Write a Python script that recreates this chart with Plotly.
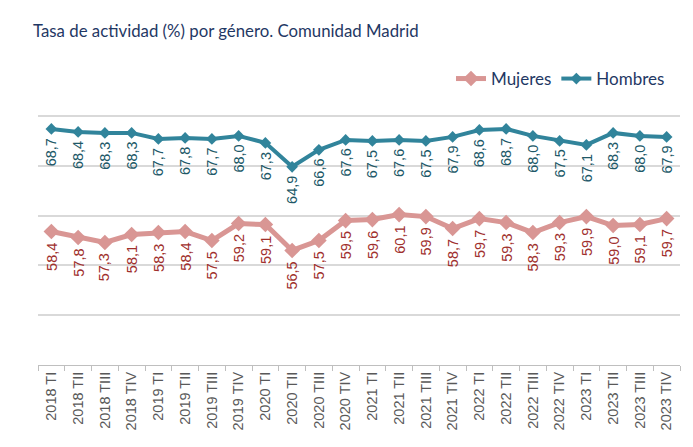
import plotly.graph_objects as go

categories = ["2018 TI", "2018 TII", "2018 TIII", "2018 TIV",
              "2019 TI", "2019 TII", "2019 TIII", "2019 TIV",
              "2020 TI", "2020 TII", "2020 TIII", "2020 TIV",
              "2021 TI", "2021 TII", "2021 TIII", "2021 TIV",
              "2022 TI", "2022 TII", "2022 TIII", "2022 TIV",
              "2023 TI", "2023 TII", "2023 TIII", "2023 TIV"]
mujeres = [58.4, 57.8, 57.3, 58.1, 58.3, 58.4, 57.5, 59.2, 59.1, 56.5, 57.5, 59.5,
           59.6, 60.1, 59.9, 58.7, 59.7, 59.3, 58.3, 59.3, 59.9, 59.0, 59.1, 59.7]
hombres = [68.7, 68.4, 68.3, 68.3, 67.7, 67.8, 67.7, 68.0, 67.3, 64.9, 66.6, 67.6,
           67.5, 67.6, 67.5, 67.9, 68.6, 68.7, 68.0, 67.5, 67.1, 68.3, 68.0, 67.9]

C_MUJ = "#D99694"
C_HOM = "#31849B"
C_MUJ_LBL = "#A0302D"
C_HOM_LBL = "#205867"

# page body has an 8px margin: compensate so the chart lands where the reference has it
OFF = 8
W, H = 693 - OFF, 447 - OFF
PL, PR, PT, PB = 38, 680, 114, 365        # plot area in viewport pixels
L, T = PL - OFF, PT - OFF
R = W - (PR - OFF)
B = H - (PB - OFF)
pw = W - L - R
ph = H - T - B

def px(xv):  # viewport x -> paper
    return (xv - PL) / pw

def py(yv):  # viewport y -> paper
    return (PB - yv) / ph

fig = go.Figure()
fig.add_trace(go.Scatter(x=categories, y=mujeres, name="Mujeres", mode="lines+markers",
                         line=dict(color=C_MUJ, width=5),
                         marker=dict(symbol="diamond", size=12, color=C_MUJ)))
fig.add_trace(go.Scatter(x=categories, y=hombres, name="Hombres", mode="lines+markers",
                         line=dict(color=C_HOM, width=4),
                         marker=dict(symbol="diamond", size=9, color=C_HOM)))
# helper (empty) trace so the boundary-tick axis is drawn
fig.add_trace(go.Scatter(x=[], y=[], xaxis="x2", showlegend=False, hoverinfo="skip"))

ann = []
for i, v in enumerate(hombres):
    ann.append(dict(x=i, y=v, xref="x2", yref="y", text=f"{v:.1f}".replace(".", ","),
                    textangle=-90, showarrow=False, yanchor="top", xanchor="center",
                    yshift=-7, font=dict(family="Liberation Sans, Arial", size=14.5, color=C_HOM_LBL)))
for i, v in enumerate(mujeres):
    ann.append(dict(x=i, y=v, xref="x2", yref="y", text=f"{v:.1f}".replace(".", ","),
                    textangle=-90, showarrow=False, yanchor="top", xanchor="center",
                    yshift=-9, font=dict(family="Liberation Sans, Arial", size=14.5, color=C_MUJ_LBL)))
ann.append(dict(xref="paper", yref="paper", x=px(31), y=py(30),
                xanchor="left", yanchor="middle", showarrow=False,
                text="Tasa de actividad (%) por género. Comunidad Madrid",
                font=dict(family="Lato, Carlito, Calibri", size=16.8, color="#1F3864")))

n = len(categories)
boundaries = [i - 0.5 for i in range(n + 1)]

fig.update_layout(
    width=W, height=H,
    margin=dict(l=L, r=R, t=T, b=B, autoexpand=False),
    paper_bgcolor="white", plot_bgcolor="white",
    showlegend=True,
    legend=dict(orientation="h", x=px(670), xanchor="right", y=py(79), yanchor="middle",
                font=dict(family="Lato, Carlito, Calibri", size=17, color="#1F3864"),
                itemwidth=30, tracegroupgap=0, bgcolor="rgba(0,0,0,0)"),
    annotations=ann,
    xaxis=dict(type="category", tickangle=-90, showgrid=False, showline=True,
               linecolor="#BFBFBF", linewidth=1, ticks="", range=[-0.5, n - 0.5],
               tickfont=dict(family="Liberation Sans, Arial", size=14.5, color="#595959"),
               automargin=False),
    xaxis2=dict(overlaying="x", anchor="y", side="bottom", range=[-0.5, n - 0.5],
                tickmode="array", tickvals=boundaries, showticklabels=False,
                ticks="outside", ticklen=5, tickcolor="#BFBFBF", tickwidth=1,
                showgrid=False, showline=False, zeroline=False),
    yaxis=dict(range=[45, 70.2], tickmode="array", tickvals=[50, 55, 60, 65, 70],
               showticklabels=False, showgrid=True,
               gridcolor="#D9D9D9", gridwidth=1.5, zeroline=False, showline=False, automargin=False),
)

fig.write_html("out.html")
